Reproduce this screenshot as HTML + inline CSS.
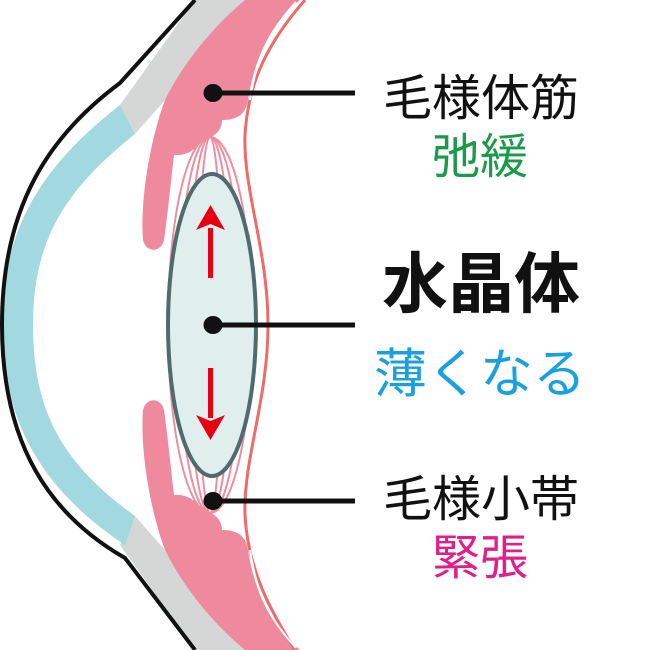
<!DOCTYPE html>
<html><head><meta charset="utf-8"><style>
html,body{margin:0;padding:0;background:#fff;}
svg{display:block;}
text{font-family:"Liberation Sans","Noto Sans CJK JP",sans-serif;}
</style></head><body>
<svg width="655" height="650" viewBox="0 0 655 650" xmlns="http://www.w3.org/2000/svg">
<path d="M195,0 L252,0 L165,100 L135,134 L120,105 Z" fill="#d5d6d6"/>
<path d="M195,650 L252,650 L165,550 L135,516 L120,545 Z" fill="#d5d6d6"/>
<path d="M120,105 C50,160 2,220 2,325 C2,430 50,495 125,545 L135,516 C65,465 33,415 33,325 C33,240 65,190 135,134 Z" fill="#a2d8e0"/>
<path d="M195,0 L120,83 C50,135 2,205 2,325 C2,445 50,515 125,558 L195,650" fill="none" stroke="#111" stroke-width="4"/>
<g fill="none" stroke="#ec8ea2" stroke-width="2">
<ellipse cx="210" cy="325" rx="12" ry="188"/>
<ellipse cx="210" cy="325" rx="22" ry="188"/>
<ellipse cx="210" cy="325" rx="32" ry="188"/>
<ellipse cx="210" cy="325" rx="42" ry="188"/>
</g>
<path d="M245,0 L300,0 C272,25 255,55 248,100 C246,115 236,120 222,120 C222,132 212,138 202,140 C196,150 186,156 174,155 C170,190 167,220 164,240 C161,253 146,253 143,240 C140,200 150,140 165,100 C185,60 215,25 245,0 Z" fill="#ef8a9e"/>
<path d="M245,650 L300,650 C272,625 255,595 248,550 C246,535 236,530 222,530 C222,518 212,512 202,510 C196,500 186,494 174,495 C170,460 167,430 164,410 C161,397 146,397 143,410 C140,450 150,510 165,550 C185,590 215,625 245,650 Z" fill="#ef8a9e"/>
<path d="M305,0 C270,40 248,80 245,135 C243,190 268,250 268,325 C268,400 243,460 245,515 C248,570 270,610 295,650" fill="none" stroke="#ee6b6b" stroke-width="3"/>
<path d="M296,2 C266,35 256,60 250,100" fill="none" stroke="#fff" stroke-width="2"/>
<path d="M296,648 C266,615 256,590 250,550" fill="none" stroke="#fff" stroke-width="2"/>
<ellipse cx="212" cy="325" rx="44" ry="151" fill="#e0eeee" stroke="#4f6b6c" stroke-width="4"/>
<g fill="#e60012">
<rect x="208" y="228" width="5" height="50"/>
<path d="M210.5,205 L225,230 L210.5,224 L196,230 Z"/>
<rect x="208" y="368" width="5" height="50"/>
<path d="M210.5,440 L225,415 L210.5,421 L196,415 Z"/>
</g>
<g fill="#111" stroke="#111">
<ellipse cx="213" cy="93" rx="9" ry="8.5"/><line x1="213" y1="93" x2="355" y2="93" stroke-width="5"/>
<ellipse cx="213" cy="325" rx="9" ry="8.5"/><line x1="213" y1="325" x2="355" y2="325" stroke-width="5"/>
<ellipse cx="213" cy="501" rx="9" ry="8.5"/><line x1="213" y1="501" x2="355" y2="501" stroke-width="5"/>
</g>
<g text-anchor="middle">
<text x="481" y="115" font-size="49" fill="#111">毛様体筋</text>
<text x="480" y="173" font-size="48" fill="#1a9a4a">弛緩</text>
<text x="481" y="307" font-size="66" font-weight="bold" fill="#111">水晶体</text>
<text x="480" y="392" font-size="53" fill="#1aa0dc">薄くなる</text>
<text x="481" y="516" font-size="49" fill="#111">毛様小帯</text>
<text x="480" y="574" font-size="48" fill="#e0208a">緊張</text>
</g>
</svg>
</body></html>
